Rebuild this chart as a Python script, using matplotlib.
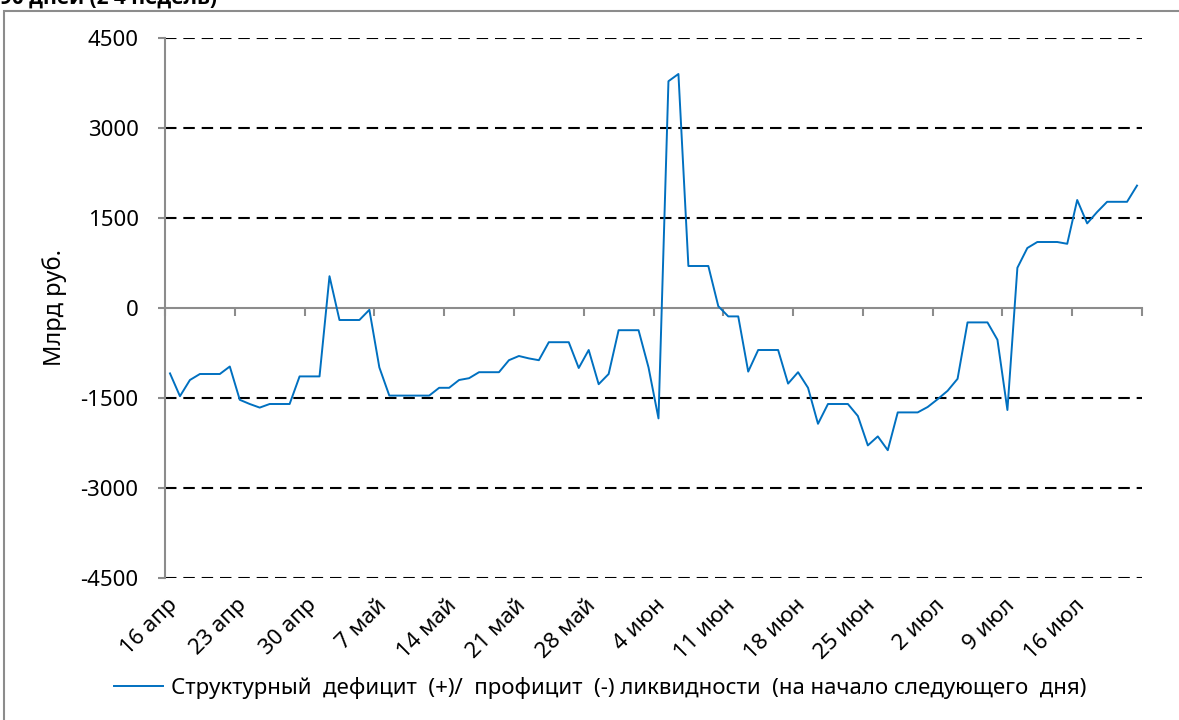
import matplotlib
matplotlib.use("Agg")
import matplotlib.pyplot as plt
import matplotlib.transforms as mtransforms
from matplotlib.patches import Rectangle
import numpy as np

plt.rcParams["font.family"] = ["Noto Sans", "DejaVu Sans"]

# daily values, 16 Apr .. 22 Jul, bn rub
liquidity = [
    -1090, -1470, -1200, -1100, -1100, -1100, -975,
    -1530, -1600, -1660, -1600, -1600, -1600, -1140,
    -1140, -1140, 530, -200, -200, -200, -30,
    -990, -1460, -1460, -1460, -1460, -1460, -1330,
    -1330, -1200, -1170, -1070, -1070, -1070, -870,
    -800, -840, -870, -570, -570, -570, -1000,
    -700, -1270, -1100, -370, -370, -370, -990,
    -1840, 3780, 3900, 700, 700, 700, 30,
    -140, -140, -1060, -700, -700, -700, -1260,
    -1070, -1330, -1930, -1600, -1600, -1600, -1800,
    -2290, -2140, -2370, -1740, -1740, -1740, -1650,
    -1520, -1380, -1180, -240, -240, -240, -530,
    -1700, 670, 1000, 1100, 1100, 1100, 1070,
    1800, 1410, 1600, 1770, 1770, 1770, 2040,
]
week_labels = ["16 апр", "23 апр", "30 апр", "7 май", "14 май", "21 май", "28 май",
               "4 июн", "11 июн", "18 июн", "25 июн", "2 июл", "9 июл", "16 июл"]
y_ticks = [-4500, -3000, -1500, 0, 1500, 3000, 4500]
series_name = "Структурный  дефицит  (+)/  профицит  (-) ликвидности  (на начало следующего  дня)"

W, H = 1179, 720
fig = plt.figure(figsize=(W / 100, H / 100), dpi=100)
ax = fig.add_axes([165 / W, 1 - 578 / H, (1142 - 165) / W, (578 - 38) / H])

n = len(liquidity)
x = np.arange(n) + 0.5
line, = ax.plot(x, liquidity, color="#0070C0", lw=1.4, zorder=3)

ax.set_xlim(0, 98)
ax.set_ylim(-4500, 4500)
ax.set_yticks(y_ticks)
ax.set_yticklabels([str(v) for v in y_ticks])
for v in y_ticks:
    if v != 0:
        ax.axhline(v, color="black", lw=1.5, ls=(0, (5.5, 3.3)), zorder=1)

gray = "#8c8c8c"
for s in ["top", "right"]:
    ax.spines[s].set_visible(False)
ax.spines["left"].set_color(gray)
ax.spines["left"].set_linewidth(1.5)
ax.spines["bottom"].set_position(("data", 0))
ax.spines["bottom"].set_color(gray)
ax.spines["bottom"].set_linewidth(1.5)

ax.set_xticks(np.arange(0, 99, 7))
ax.tick_params(axis="x", direction="out", length=6, width=1.5, color=gray, labelbottom=False)
ax.tick_params(axis="y", direction="out", length=5, width=1.5, color=gray, pad=14, labelsize=16)

trans = mtransforms.blended_transform_factory(ax.transData, ax.transAxes)
for i, lab in enumerate(week_labels):
    ax.text(i * 7 + 0.9, -0.045, lab, transform=trans, rotation=45,
            rotation_mode="anchor", ha="right", va="center", fontsize=16)

fig.text(55 / W, 1 - 307 / H, "Млрд руб.", rotation=90, ha="center", va="center", fontsize=17)

ax.legend([line], [series_name], loc="center", bbox_to_anchor=(600 / W, 1 - 688 / H),
          bbox_transform=fig.transFigure, frameon=False, fontsize=16,
          handlelength=2.2, handletextpad=0.35)

fig.patches.append(Rectangle((4 / W, -0.1), 1.2, 1.1 - 11 / H, transform=fig.transFigure,
                             fill=False, edgecolor=gray, lw=1.5))
fig.text(0.0, 1 - 4 / H, "90 дней (2 4 недель)", ha="left", va="baseline",
         fontsize=15, fontweight="bold", family=["Open Sans", "DejaVu Sans"])

fig.savefig("out.png", dpi=100)
